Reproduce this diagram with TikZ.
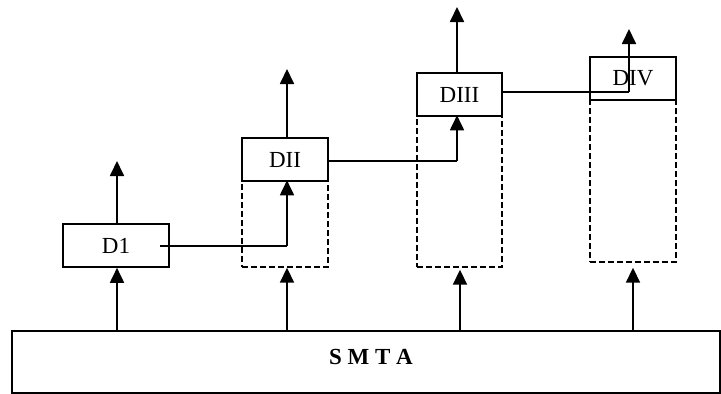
\documentclass[tikz,border=0pt]{standalone}
\usepackage{fontspec}
\setmainfont{Liberation Serif}
\usetikzlibrary{arrows.meta}
\begin{document}
\begin{tikzpicture}[x=1pt,y=-1pt,
  box/.style={draw,line width=1.6pt,minimum height=43pt,inner sep=0pt,font=\fontsize{23}{27}\selectfont},
  dbox/.style={draw,line width=1.4pt,dash pattern=on 6pt off 3pt,inner sep=0pt},
  arr/.style={line width=1.8pt,-{Triangle[width=14pt,length=15pt]}},
  conn/.style={line width=1.4pt}]
\useasboundingbox (0,0) rectangle (721,394);
% base
\node[draw,line width=1.2pt,minimum width=708pt,minimum height=62pt,inner sep=0pt] (smta) at (366,362) {};
\node[font=\fontsize{23}{27}\selectfont\bfseries] (smtalabel) at (371,357) {S M T A};
% dashed boxes
\node[dbox,minimum width=86pt,minimum height=86pt] (d2dash) at (285,224) {};
\node[dbox,minimum width=85pt,minimum height=151pt] (d3dash) at (459.5,191.5) {};
\node[dbox,minimum width=86pt,minimum height=162pt] (d4dash) at (633,181) {};
% solid boxes
\node[box,minimum width=106pt,fill=white] (d1) at (116,245.5) {D1};
\node[box,minimum width=86pt,fill=white] (d2) at (285,159.5) {DII};
\node[box,minimum width=85pt,fill=white] (d3) at (459.5,94.5) {DIII};
\node[box,minimum width=86pt,fill=white] (d4) at (633,78.5) {DIV};
% named points
\coordinate (t1) at (117,161);
\coordinate (t2) at (287,69);
\coordinate (t3) at (457,7);
\coordinate (t4) at (629,29);
\coordinate (c1) at (160,246);
\coordinate (b1) at (287,246);
\coordinate (b2) at (457,161);
\coordinate (b3) at (629,92);
% up arrows from boxes
\draw[arr] (d1.north -| t1) -- (t1);
\draw[arr] (d2.north -| t2) -- (t2);
\draw[arr] (d3.north -| t3) -- (t3);
% connectors
\draw[conn] (c1) -- (b1);
\draw[arr] (b1) -- (d2dash.north -| b1);
\draw[conn] (d2.east |- b2) -- (b2);
\draw[arr] (b2) -- (d3dash.north -| b2);
\draw[conn] (d3.east |- b3) -- (b3);
\draw[arr] (b3) -- (t4);
% arrows from base
\coordinate (s1) at (117,331);
\coordinate (s2) at (287,331);
\coordinate (s3) at (460,331);
\coordinate (s4) at (633,331);
\draw[arr] (s1) -- (d1.south -| s1);
\draw[arr] (s2) -- (d2dash.south -| s2);
\draw[arr] (s3) -- ([yshift=-2pt]d3dash.south -| s3);
\draw[arr] (s4) -- ([yshift=-5pt]d4dash.south -| s4);
\end{tikzpicture}
\end{document}
